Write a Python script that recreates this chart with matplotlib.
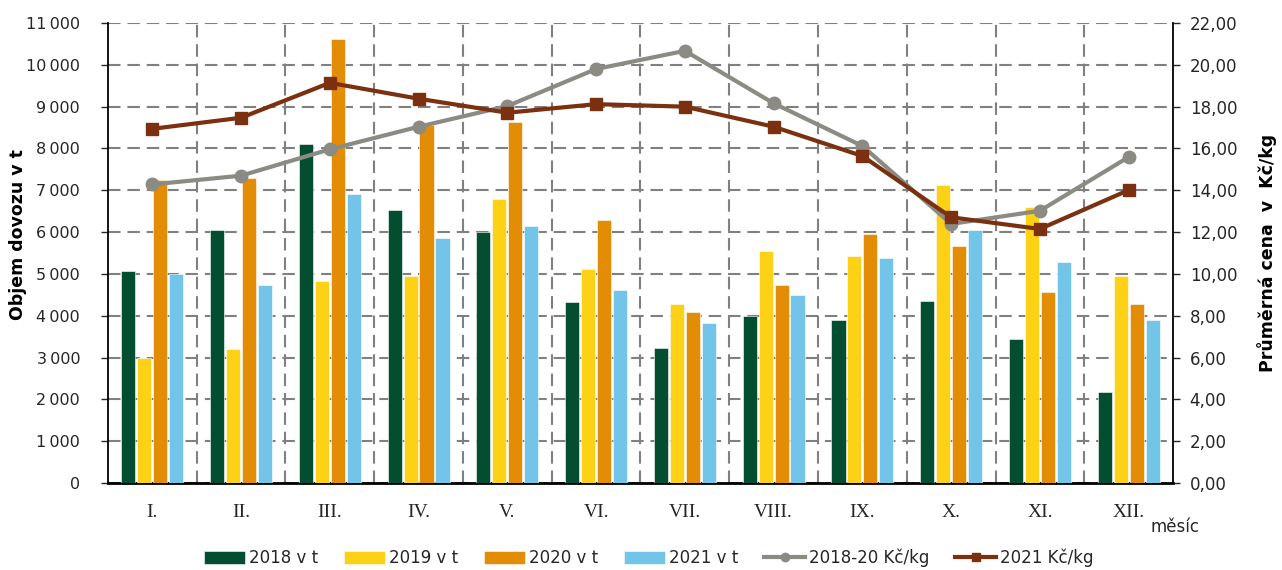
import matplotlib
matplotlib.use("Agg")
import matplotlib.pyplot as plt
import numpy as np
from matplotlib.ticker import FuncFormatter, FixedLocator

months = ["I.", "II.", "III.", "IV.", "V.", "VI.", "VII.", "VIII.", "IX.", "X.", "XI.", "XII."]
v2018 = [5080, 6060, 8100, 6520, 6010, 4340, 3240, 3990, 3900, 4360, 3440, 2180]
v2019 = [3000, 3210, 4820, 4960, 6780, 5120, 4270, 5540, 5430, 7130, 6610, 4960]
v2020 = [7250, 7300, 10630, 8570, 8640, 6290, 4100, 4730, 5950, 5660, 4570, 4270]
v2021 = [5000, 4730, 6920, 5860, 6150, 4620, 3820, 4500, 5370, 6060, 5280, 3900]
p1820 = [14.28, 14.70, 15.96, 17.04, 18.03, 19.80, 20.67, 18.16, 16.12, 12.39, 13.02, 15.59]
p2021 = [16.94, 17.47, 19.14, 18.38, 17.71, 18.12, 18.00, 17.04, 15.64, 12.71, 12.15, 14.01]

bar_labels = ["2018 v t", "2019 v t", "2020 v t", "2021 v t"]
line_labels = ["2018-20 Kč/kg", "2021 Kč/kg"]
bar_colors = ["#034D31", "#FCD116", "#E38D07", "#72C5E9"]
line_colors = ["#8C8B83", "#7B3010"]

plt.rcParams['font.family'] = ['DejaVu Sans']
TXT = '#262626'
plt.rcParams['text.color'] = TXT

fig = plt.figure(figsize=(12.82, 5.70), dpi=100)
ax = fig.add_axes([0.0842, 0.1526, 0.8308, 0.807])
ax2 = ax.twinx()

x = np.arange(len(months))
w = 0.16
step = 0.18
for i, (vals, c, lab) in enumerate(zip([v2018, v2019, v2020, v2021], bar_colors, bar_labels)):
    ax.bar(x + (i - 1.5) * step, vals, width=w, color=c, label=lab, zorder=3,
           edgecolor='white', linewidth=0.4)

GRID = dict(linestyle=(0, (6, 3.3)), color='#808080', linewidth=1.5, zorder=0)
ax.set_xlim(-0.5, 11.5)
ax.set_ylim(0, 11000)
ax.set_yticks(np.arange(0, 11001, 1000))
ax.yaxis.set_major_formatter(FuncFormatter(lambda v, p: f"{int(v):,}".replace(",", "\u2009")))
ax.set_xticks(x)
ax.set_xticklabels(months, family=['Liberation Serif', 'DejaVu Serif'], fontsize=14, color=TXT)
ax.xaxis.set_minor_locator(FixedLocator(np.arange(0.5, 11.5, 1.0)))
ax.tick_params(axis='x', which='major', length=0, pad=15)
ax.tick_params(axis='x', which='minor', length=0)
ax.tick_params(axis='y', length=5, width=1, labelsize=11.5, colors=TXT, pad=15)
ax.grid(axis='y', which='major', **GRID)
ax.grid(axis='x', which='minor', **GRID)
ax.set_axisbelow(True)

ax.spines['top'].set_visible(False)
ax2.spines['top'].set_visible(False)
ax.spines['left'].set_linewidth(1.3)
ax.spines['bottom'].set_linewidth(2.0)
ax.spines['right'].set_visible(False)
ax2.spines['left'].set_visible(False)
ax2.spines['bottom'].set_visible(False)
ax2.spines['right'].set_linewidth(1.3)

ax2.plot(x, p1820, color=line_colors[0], marker='o', markersize=9, linewidth=3, label=line_labels[0], zorder=4)
ax2.plot(x, p2021, color=line_colors[1], marker='s', markersize=9, linewidth=3, label=line_labels[1], zorder=5)
ax2.set_ylim(0, 22)
ax2.set_yticks(np.arange(0, 22.01, 2))
ax2.yaxis.set_major_formatter(FuncFormatter(lambda v, p: f"{v:.2f}".replace(".", ",")))
ax2.tick_params(axis='y', length=5, width=1, labelsize=12, colors=TXT, pad=7)

ax.set_ylabel("Objem dovozu v t", fontsize=12.5, fontweight='bold', labelpad=10)
ax.yaxis.set_label_coords(-0.076, 0.54)
ax2.set_ylabel("Průměrná cena  v  Kč/kg", fontsize=12.5, fontweight='bold', labelpad=14)

fig.text(1175 / 1282, 1 - 527 / 570, "měsíc", fontsize=12, ha='center', va='center')

h1, l1 = ax.get_legend_handles_labels()
h2, l2 = ax2.get_legend_handles_labels()
leg = fig.legend(h1 + h2, l1 + l2, loc='center', bbox_to_anchor=(649 / 1282, 1 - 558 / 570), ncol=6,
                 frameon=False, fontsize=12, handlelength=2.45, handleheight=0.75, columnspacing=1.55,
                 handletextpad=0.25)
for ln in leg.get_lines():
    ln.set_markersize(6)

fig.savefig("out.png", dpi=100)
